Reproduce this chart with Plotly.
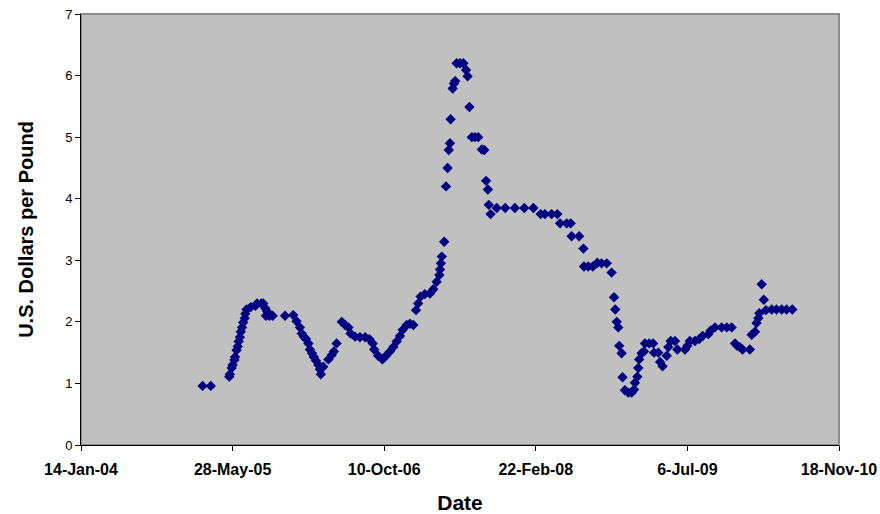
import pandas as pd
import plotly.graph_objects as go

# Price series.
# day_offset = days after 14-Jan-2004, price in U.S. dollars per pound
day_offset = [
    401, 428, 489, 491, 497, 500, 506, 508, 513, 517, 520, 524, 527, 531, 535,
    540, 542, 546, 560, 575, 581, 595, 601, 608, 610, 614, 621, 632, 673, 700,
    711, 722, 728, 735, 742, 750, 755, 762, 768, 775, 783, 788, 791, 799, 816,
    827, 834, 843, 860, 871, 882, 889, 904, 920, 937, 951, 962, 967, 980, 994,
    1006, 1019, 1030, 1041, 1052, 1061, 1074, 1085, 1096, 1105, 1112, 1120,
    1134, 1151, 1162, 1173, 1182, 1184, 1187, 1190, 1198, 1204, 1209, 1213,
    1217, 1219, 1226, 1230, 1234, 1239, 1250, 1261, 1270, 1275, 1281, 1289,
    1299, 1310, 1322, 1330, 1336, 1342, 1345, 1351, 1371, 1399, 1431, 1462,
    1492, 1516, 1530, 1552, 1571, 1580, 1602, 1615, 1618, 1643, 1657, 1659,
    1673, 1688, 1703, 1717, 1734, 1750, 1758, 1762, 1767, 1772, 1775, 1783,
    1786, 1794, 1805, 1816, 1824, 1827, 1835, 1838, 1841, 1849, 1857, 1860,
    1874, 1887, 1890, 1904, 1910, 1918, 1932, 1937, 1945, 1959, 1967, 1992,
    2000, 2008, 2025, 2039, 2050, 2069, 2077, 2091, 2113, 2130, 2146, 2157,
    2164, 2173, 2182, 2206, 2212, 2223, 2228, 2234, 2237, 2245, 2252, 2259,
    2278, 2294, 2311, 2327, 2346,
]
price = [
    0.96, 0.96, 1.11, 1.15, 1.25, 1.30, 1.38, 1.43, 1.54, 1.60, 1.68, 1.75,
    1.84, 1.91, 1.99, 2.06, 2.13, 2.20, 2.24, 2.26, 2.30, 2.30, 2.30, 2.22,
    2.10, 2.17, 2.10, 2.10, 2.10, 2.11, 2.01, 1.91, 1.81, 1.76, 1.72, 1.65,
    1.55, 1.49, 1.43, 1.37, 1.30, 1.23, 1.15, 1.27, 1.39, 1.46, 1.52, 1.65,
    2.00, 1.95, 1.91, 1.81, 1.76, 1.75, 1.75, 1.72, 1.65, 1.55, 1.45, 1.39,
    1.45, 1.52, 1.59, 1.68, 1.77, 1.87, 1.95, 1.97, 1.95, 2.19, 2.30, 2.41,
    2.45, 2.46, 2.53, 2.65, 2.76, 2.85, 2.95, 3.06, 3.30, 4.20, 4.50, 4.79,
    4.90, 5.29, 5.79, 5.87, 5.91, 6.20, 6.20, 6.20, 6.09, 5.99, 5.49, 5.00,
    5.00, 5.00, 4.80, 4.79, 4.29, 4.15, 3.90, 3.75, 3.85, 3.85, 3.85, 3.85,
    3.85, 3.75, 3.75, 3.75, 3.75, 3.60, 3.60, 3.60, 3.39, 3.39, 3.19, 2.90,
    2.90, 2.90, 2.96, 2.95, 2.95, 2.80, 2.40, 2.20, 2.00, 1.91, 1.61, 1.49,
    1.10, 0.89, 0.85, 0.85, 0.90, 1.01, 1.11, 1.25, 1.39, 1.49, 1.52, 1.65,
    1.65, 1.65, 1.50, 1.50, 1.35, 1.28, 1.45, 1.59, 1.69, 1.69, 1.55, 1.55,
    1.61, 1.69, 1.69, 1.72, 1.77, 1.80, 1.86, 1.91, 1.91, 1.91, 1.91, 1.65,
    1.61, 1.59, 1.55, 1.55, 1.79, 1.84, 1.98, 2.06, 2.14, 2.61, 2.36, 2.19,
    2.20, 2.20, 2.20, 2.20, 2.20,
]

start_date = "2004-01-14"
tick_step_days = 500
n_ticks = 6

_FONT = "Liberation Sans, Arial, sans-serif"

start = pd.Timestamp(start_date)
dates = start + pd.to_timedelta(day_offset, unit="D")
tick_dates = [start + pd.Timedelta(days=tick_step_days * k) for k in range(n_ticks)]
tick_text = [f"{d.day}-{d.strftime('%b-%y')}" for d in tick_dates]

fig = go.Figure(
    go.Scatter(
        x=dates,
        y=price,
        mode="markers",
        marker=dict(symbol="diamond", size=8, color="#000080", line=dict(width=0)),
        showlegend=False,
    )
)

# gray frame on top/right, black axis lines drawn over it on left/bottom
fig.add_shape(
    type="rect", xref="paper", yref="paper", x0=0, y0=0, x1=1, y1=1,
    line=dict(color="#8c8c8c", width=2), layer="below",
)

fig.update_layout(
    width=880,
    height=514,
    margin=dict(l=81, r=41, t=14, b=69),
    paper_bgcolor="white",
    plot_bgcolor="#c0c0c0",
    font=dict(family=_FONT, color="black"),
    xaxis=dict(
        range=[tick_dates[0], tick_dates[-1]],
        tickvals=tick_dates,
        ticktext=tick_text,
        tickfont=dict(size=16, family=_FONT, color="black", weight="bold"),
        showgrid=False,
        zeroline=False,
        showline=True,
        linecolor="black",
        linewidth=1,
        ticks="outside",
        ticklen=5,
        tickcolor="black",
        ticklabelstandoff=5,
        ticklabeloverflow="allow",
        automargin=False,
        title=dict(text="<b>Date</b>", font=dict(size=21), standoff=18),
    ),
    yaxis=dict(
        range=[0, 7],
        dtick=1,
        tickfont=dict(size=13, family=_FONT, color="black"),
        showgrid=False,
        zeroline=False,
        showline=True,
        linecolor="black",
        linewidth=1,
        ticks="outside",
        ticklen=5,
        tickcolor="black",
        ticklabeloverflow="allow",
        automargin=False,
        title=dict(text="<b>U.S. Dollars per Pound</b>", font=dict(size=20), standoff=26),
    ),
)

# drop the default page margin so the figure fills the window exactly
fig.write_html(
    "out.html",
    config={"displayModeBar": False},
    post_script="document.body.style.margin='0';document.body.style.overflow='hidden';",
)
